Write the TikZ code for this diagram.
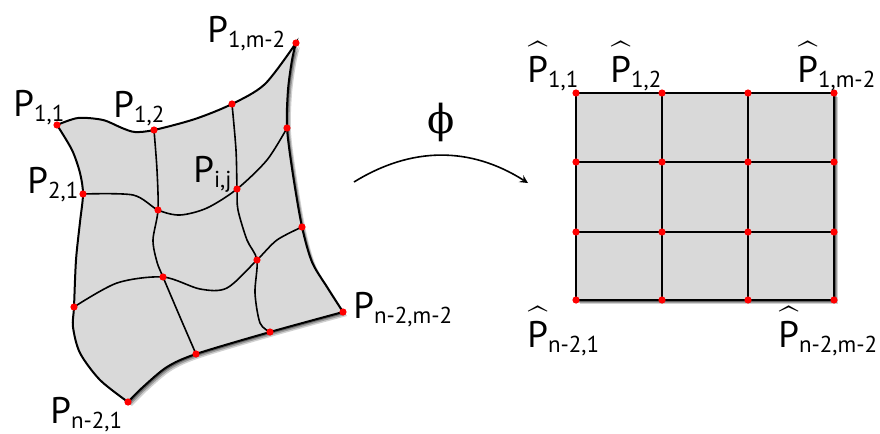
\documentclass[tikz,border=0pt]{standalone}
\usepackage{fix-cm}
\usepackage{amsmath}
\usepackage{fontspec}
\setmainfont{PT Sans}
\newfontfamily\phifont{DejaVu Serif}
\usetikzlibrary{shadows}

\newcommand{\plab}[1]{P\raisebox{-0.3ex}{\fontsize{11.5}{11.5}\selectfont#1}}
\newcommand{\phatlab}[1]{$\widehat{\text{P}\rule{0pt}{0.82em}}$\raisebox{-0.3ex}{\fontsize{11.5}{11.5}\selectfont#1}}

\begin{document}
\begin{tikzpicture}[x=0.5pt,y=-0.5pt,>=stealth,
    font=\fontsize{18.5}{20}\selectfont,
    patch/.style={fill=black!15,line width=1pt,
        drop shadow={shadow xshift=2.0pt,shadow yshift=-2.0pt,opacity=0.18,fill=black},
        drop shadow={shadow xshift=1.4pt,shadow yshift=-1.4pt,opacity=0.25,fill=black},
        drop shadow={shadow xshift=0.8pt,shadow yshift=-0.8pt,opacity=0.35,fill=black}},
    meshline/.style={line width=0.8pt},
    knot/.style={circle,fill=red,inner sep=0pt,minimum size=3.6pt},
    plabel/.style={anchor=base west,inner sep=0pt}]
    \useasboundingbox (0,0) rectangle (880,434);

    % points of the curved patch
    \coordinate (p11) at (57,125);  \coordinate (p12) at (154,130);
    \coordinate (p13) at (232,104); \coordinate (p14) at (296,43);
    \coordinate (p21) at (83,194);  \coordinate (p22) at (158,210);
    \coordinate (p23) at (237,189); \coordinate (p24) at (287,128);
    \coordinate (p31) at (74,307);  \coordinate (p32) at (163,277);
    \coordinate (p33) at (257,260); \coordinate (p34) at (302,227);
    \coordinate (p41) at (128,402); \coordinate (p42) at (196,354);
    \coordinate (p43) at (270,332); \coordinate (p44) at (343,312);

    \path[patch,draw]
        plot[smooth] coordinates {(p11) (78,118) (103,120) (122,128) (135,132)
            (p12) (195,119) (p13) (265,84) (p14)}
        -- plot[smooth] coordinates {(p14) (292,60) (288,90) (p24) (293,175)
            (p34) (312,262) (327,287) (p44)}
        -- plot[smooth] coordinates {(p44) (p43) (p42) (167,367) (143,387) (p41)}
        -- plot[smooth] coordinates {(p41) (100,380) (80,353) (73,327) (p31)
            (76,260) (80,222) (p21) (80,173) (72,150) (p11)}
        -- cycle;

    % inner curves
    \draw[meshline] plot[smooth] coordinates {(p21) (133,195) (p22) (180,215)
        (207,208) (p23) (267,160) (p24)};
    \draw[meshline] plot[smooth] coordinates {(p31) (117,283) (p32) (200,289)
        (227,288) (p33) (277,240) (p34)};
    \draw[meshline] plot[smooth] coordinates {(p12) (157,170) (p22) (153,240)
        (157,262) (p32) (180,317) (p42)};
    \draw[meshline] plot[smooth] coordinates {(p13) (236,150) (p23) (238,210)
        (247,240) (p33) (255,293) (260,323) (p43)};

    \foreach \i in {1,...,4}{
        \foreach \j in {1,...,4}{
            \node[knot] (dot-\i-\j) at (p\i\j) {};
        }
    }

    \node[plabel] (l11) at (13,116) {\plab{1,1}};
    \node[plabel] (l12) at (113,117) {\plab{1,2}};
    \node[plabel] (l1m) at (207,42) {\plab{1,m-2}};
    \node[plabel] (l21) at (27,193) {\plab{2,1}};
    \node[plabel] (lij) at (193,182) {\plab{i,j}};
    \node[plabel] (lnm) at (353,318) {\plab{n-2,m-2}};
    \node[plabel] (ln1) at (50,423) {\plab{n-2,1}};

    % the map
    \coordinate (phistart) at (354,182);
    \coordinate (phiend) at (528,183);
    \draw[->,line width=0.8pt] (phistart) to[bend left=32] (phiend);
    \node[inner sep=0pt] (phi) at (441,122) {\phifont\fontsize{20}{22}\selectfont ϕ};

    % the square grid
    \coordinate (q11) at (576,93);
    \coordinate (q44) at (834,300);
    \path[patch] (q11) rectangle (q44);
    \foreach \x in {662,748}{
        \draw[meshline] (\x,93) -- (\x,300);
    }
    \foreach \y in {162,232}{
        \draw[meshline] (576,\y) -- (834,\y);
    }
    \draw[line width=1pt] (q11) rectangle (q44);
    \foreach \x/\i in {576/1,662/2,748/3,834/4}{
        \foreach \y/\j in {93/1,162/2,232/3,300/4}{
            \node[knot] (hat-\j-\i) at (\x,\y) {};
        }
    }

    \node[plabel] (h11) at (527,82) {\phatlab{1,1}};
    \node[plabel] (h12) at (610,82) {\phatlab{1,2}};
    \node[plabel] (h1m) at (797,82) {\phatlab{1,m-2}};
    \node[plabel] (hn1) at (527,347) {\phatlab{n-2,1}};
    \node[plabel] (hnm) at (778,347) {\phatlab{n-2,m-2}};
\end{tikzpicture}
\end{document}
